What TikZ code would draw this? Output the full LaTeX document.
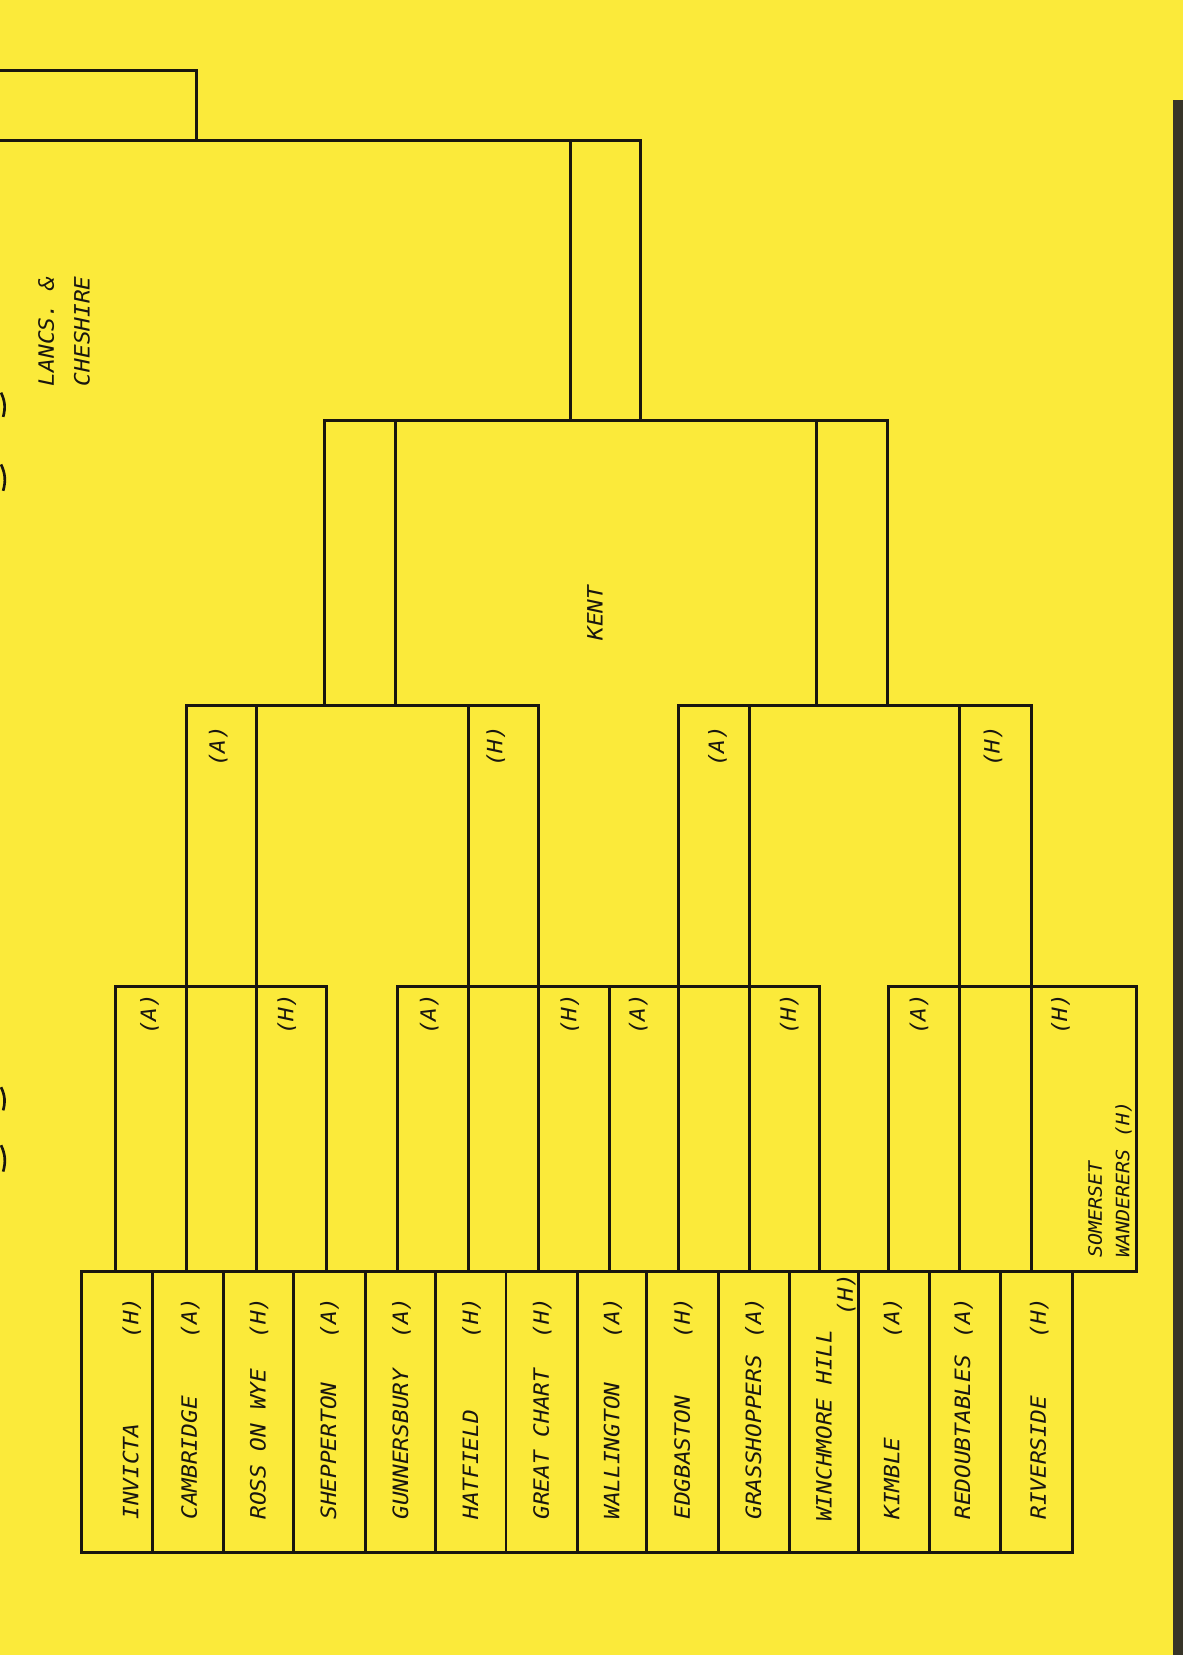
\documentclass[tikz,border=0pt]{standalone}
\usepackage{fontspec}
\newfontfamily\leroy[FakeStretch=1.08]{DejaVu Sans Mono Oblique}
\definecolor{paper}{RGB}{251,234,58}
\definecolor{ink}{RGB}{25,22,15}
\definecolor{edge}{RGB}{55,52,40}
\tikzset{
  ln/.style={line width=2.8pt, draw=ink, line cap=rect},
  lab/.style={font=\leroy\fontsize{20}{24}\selectfont, text=ink, inner sep=0pt, rotate=90},
  smalllab/.style={lab, font=\leroy\fontsize{17.5}{20}\selectfont},
}
\begin{document}
\begin{tikzpicture}[x=1pt,y=-1pt]
\useasboundingbox (0,0) rectangle (1121,1568);
\fill[paper] (0,0) rectangle (1121,1568);
\fill[edge] (1111,95) rectangle (1121,1568);
% binding marks at left edge
\foreach \a/\b in {372/395,440/465,1030/1052,1085/1110}
  \draw[ink, line width=2.5pt] (1,\a) to[bend left=20] (3,\b);

% top structure
\draw[ln] (0,67) -- (186,67) -- (186,133);
\draw[ln] (0,133) -- (606.5,133);
\draw[ln] (540.4,133) -- (540.4,398);
\draw[ln] (606.5,133) -- (606.5,398);
% level 1
\draw[ln] (307.3,398) -- (840.6,398);
\foreach \x in {307.3,374.9,774,840.6} \draw[ln] (\x,398) -- (\x,668);
% level 2
\draw[ln] (176.5,668) -- (510,668);
\draw[ln] (643,668) -- (977,668);
\foreach \x in {176.5,243,443.5,510,643,710,909,977} \draw[ln] (\x,668) -- (\x,935);
% level 3
\draw[ln] (109,935) -- (309.5,935);
\draw[ln] (376.5,935) -- (776,935);
\draw[ln] (842,935) -- (1077,935);
\foreach \x in {109,176.5,243,309.5,376.5,443.5,510,577,643,710,776,842,909,977,1077}
  \draw[ln] (\x,935) -- (\x,1205);
% bottom row
\draw[ln] (77.4,1205) -- (1077,1205);
\draw[ln] (77.4,1471) -- (1015.9,1471);
\foreach \x in {77.4,144.7,211.6,277.9,346.5,412.8,479.4,546.7,612.7,680.5,747.8,813.8,880.2,948.1,1015.9}
  \draw[ln] (\x,1205) -- (\x,1471);

% team names
\foreach \i/\cx/\nm/\tg in {1/124/INVICTA/H, 2/179.5/CAMBRIDGE/A, 3/244.75/ROSS ON WYE/H,
  4/311.5/SHEPPERTON/A, 5/379.65/GUNNERSBURY/A, 6/446.1/HATFIELD/H, 7/513.05/GREAT CHART/H,
  8/579.7/WALLINGTON/A, 9/646.6/EDGBASTON/H, 10/714.15/GRASSHOPPERS/A,
  12/845/KIMBLE/A, 13/912/REDOUBTABLES/A, 14/984/RIVERSIDE/H}{
  \node[lab, anchor=base west] (team\i) at (\cx+7,1440) {\nm};
  \node[lab, anchor=base east] (tag\i) at (\cx+7,1229) {(\tg)};
}
\node[lab, anchor=base west] (team11) at (787.8,1442) {WINCHMORE HILL};
\node[lab, anchor=base east] (tag11) at (808,1207) {(H)};

% level 3 labels
\foreach \j/\cx/\tg in {1/141/A,2/271/H,3/406/A,4/539/H,5/604/A,6/747/H,7/870/A,8/1004/H}
  \node[lab, anchor=base] (lthree\j) at (\cx+7,961) {(\tg)};
\node[smalllab, anchor=base west] (som) at (1044,1192) {SOMERSET};
\node[smalllab, anchor=base west] (wand) at (1070,1192) {WANDERERS (H)};

% level 2 labels
\foreach \j/\cx/\tg in {1/206/A,2/469/H,3/679/A,4/940/H}
  \node[lab, anchor=base] (ltwo\j) at (\cx+7,707) {(\tg)};

% finals
\node[lab, anchor=base] (kent) at (571,581) {KENT};
\node[lab, anchor=base west] (lancs) at (51,366) {LANCS. \&};
\node[lab, anchor=base west] (cheshire) at (85,366) {CHESHIRE};
\end{tikzpicture}
\end{document}
